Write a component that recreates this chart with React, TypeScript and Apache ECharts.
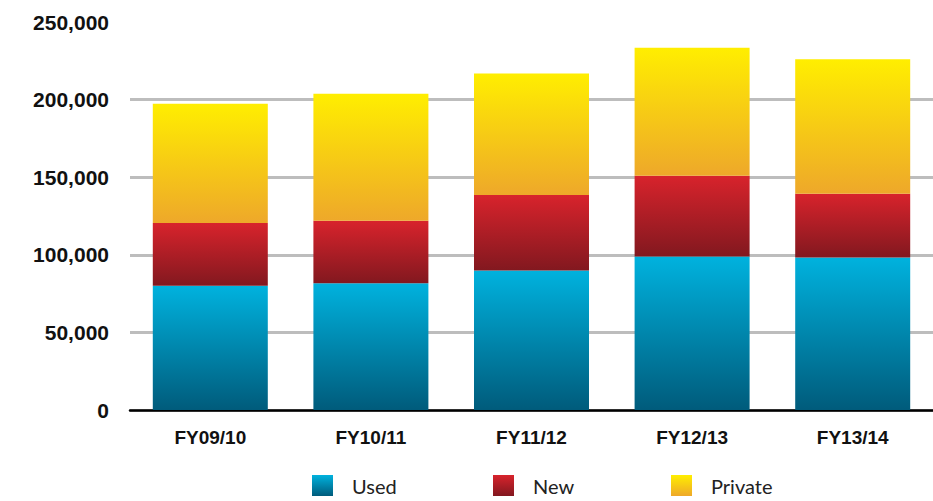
import React, { useEffect, useRef } from "react";
import * as echarts from "echarts";

const categories = ["FY09/10", "FY10/11", "FY11/12", "FY12/13", "FY13/14"];
const usedValues = [80000, 81700, 89900, 98900, 98300];
const newValues = [40500, 40200, 48600, 52100, 41100];
const privateValues = [76900, 81800, 78300, 82400, 86600];
const seriesNames = ["Used", "New", "Private"];
const legendLefts = [312, 493, 671];

const vGrad = (top: string, bottom: string) =>
  new echarts.graphic.LinearGradient(0, 0, 0, 1, [
    { offset: 0, color: top },
    { offset: 1, color: bottom },
  ]);

export default function App() {
  const ref = useRef<HTMLDivElement>(null);

  useEffect(() => {
    document.body.style.margin = "0";
    if (!ref.current) return;
    const chart = echarts.init(ref.current, null, { renderer: "svg" });
    const barBase = {
      type: "bar" as const,
      stack: "total",
      barWidth: 115,
      emphasis: { disabled: true },
    };
    // one legend per series so each entry sits at its own fixed spot
    const legends = seriesNames.map((name, i) => ({
      data: [name],
      left: legendLefts[i],
      top: 475,
      padding: 0,
      itemWidth: 21,
      itemHeight: 21,
      icon: "rect",
      textStyle: {
        fontFamily: "Lato",
        fontSize: 20,
        color: "#222222",
        padding: [0, 0, 0, 14],
      },
    }));
    chart.setOption({
      animation: false,
      backgroundColor: "#ffffff",
      grid: { left: 130, right: 0, top: 22, bottom: 91 },
      legend: legends,
      xAxis: {
        type: "category",
        data: categories,
        axisLine: { show: true, lineStyle: { color: "#000000", width: 2.5 } },
        axisTick: { show: false },
        axisLabel: {
          fontFamily: "Liberation Sans",
          fontWeight: "bold",
          fontSize: 19,
          color: "#111111",
          margin: 18,
        },
      },
      yAxis: {
        type: "value",
        min: 0,
        max: 250000,
        interval: 50000,
        axisLine: { show: false },
        axisTick: { show: false },
        splitLine: {
          show: true,
          lineStyle: {
            color: ["#bdbdbd", "#bdbdbd", "#bdbdbd", "#bdbdbd", "#bdbdbd", "rgba(0,0,0,0)"],
            width: 3,
          },
        },
        axisLabel: {
          fontFamily: "Liberation Sans",
          fontWeight: "bold",
          fontSize: 21,
          color: "#111111",
          margin: 21,
          formatter: (v: number) => v.toLocaleString("en-US"),
        },
      },
      series: [
        {
          ...barBase,
          name: seriesNames[0],
          data: usedValues,
          itemStyle: { color: vGrad("#00b2de", "#005b7b") },
        },
        {
          ...barBase,
          name: seriesNames[1],
          data: newValues,
          itemStyle: { color: vGrad("#d8232c", "#82181f") },
        },
        {
          ...barBase,
          name: seriesNames[2],
          data: privateValues,
          itemStyle: { color: vGrad("#ffee00", "#eea82a") },
        },
      ],
    });
    return () => chart.dispose();
  }, []);

  return <div ref={ref} style={{ width: 933, height: 501 }} />;
}
